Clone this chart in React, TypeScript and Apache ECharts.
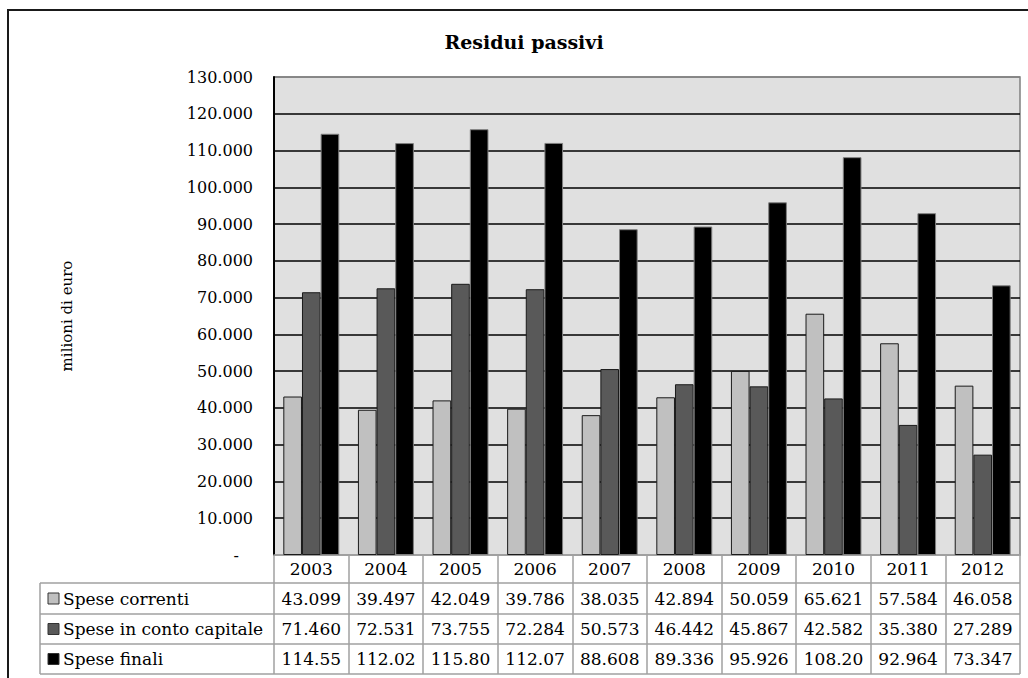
import React, { useEffect, useRef } from "react";
import * as echarts from "echarts";

const years = ["2003", "2004", "2005", "2006", "2007", "2008", "2009", "2010", "2011", "2012"];
const speseCorrenti = [43099, 39497, 42049, 39786, 38035, 42894, 50059, 65621, 57584, 46058];
const speseCapitale = [71460, 72531, 73755, 72284, 50573, 46442, 45867, 42582, 35380, 27289];
const speseFinali = [114559, 112028, 115804, 112070, 88608, 89336, 95926, 108203, 92964, 73347];
const seriesNames = ["Spese correnti", "Spese in conto capitale", "Spese finali"];
const seriesColors = ["#c0c0c0", "#595959", "#000000"];
const seriesBorders = ["#1a1a1a", "#1a1a1a", "#7f7f7f"];
const yMin = 0;
const yMax = 130000;
const yStep = 10000;

const FONT = "DejaVu Serif";
const TABLE_FS = 17;

const fmt = (v: number) =>
  Math.round(v)
    .toString()
    .replace(/\B(?=(\d{3})+(?!\d))/g, ".");
const cell = (v: number) => fmt(v).slice(0, 6);

// layout
const GRID_LEFT = 274;
const GRID_TOP = 77;
const GRID_RIGHT_X = 1020;
const GRID_BOTTOM_Y = 555;
const ROW_LINES = [583, 614, 644, 674];
const TABLE_LEFT = 40;
const W = 1028;
const H = 678;

export default function App() {
  const ref = useRef<HTMLDivElement>(null);
  useEffect(() => {
    if (!ref.current) return;
    const chart = echarts.init(ref.current, undefined, { renderer: "svg" });
    const rows = [speseCorrenti, speseCapitale, speseFinali];
    const rowCenters = [
      (GRID_BOTTOM_Y + ROW_LINES[0]) / 2,
      (ROW_LINES[0] + ROW_LINES[1]) / 2,
      (ROW_LINES[1] + ROW_LINES[2]) / 2,
      (ROW_LINES[2] + ROW_LINES[3]) / 2,
    ];
    const nTicks = Math.round((yMax - yMin) / yStep) + 1;
    const splitColors = Array.from({ length: nTicks }, (_, i) =>
      i === nTicks - 1 ? "#808080" : i === 0 ? "#a0a0a0" : "#000000"
    );

    const labelAxis = (k: number) => ({
      type: "category",
      data: years,
      gridIndex: 0,
      position: "bottom",
      axisLine: { show: false },
      axisTick: { show: false },
      splitLine: { show: false },
      axisLabel: {
        interval: 0,
        margin: rowCenters[k + 1] - GRID_BOTTOM_Y,
        verticalAlign: "middle",
        color: "#000",
        fontFamily: FONT,
        fontSize: TABLE_FS,
        formatter: (_v: string, idx: number) => cell(rows[k][idx]),
      },
    });

    const graphics: any[] = [
      {
        type: "rect",
        shape: { x: 8, y: 10, width: 1060, height: 720 },
        style: { fill: "none", stroke: "#1a1a1a", lineWidth: 2 },
        silent: true,
      },
      {
        type: "text",
        x: 524,
        y: 42,
        style: {
          text: "Residui passivi",
          fontFamily: FONT,
          fontWeight: "bold",
          fontSize: 19,
          fill: "#000",
          align: "center",
          verticalAlign: "middle",
        },
      },
      ...ROW_LINES.map((y) => ({
        type: "line",
        shape: { x1: TABLE_LEFT, y1: y, x2: GRID_RIGHT_X, y2: y },
        style: { stroke: "#a0a0a0", lineWidth: 1.5 },
        z: 10,
      })),
      {
        type: "line",
        shape: { x1: TABLE_LEFT, y1: ROW_LINES[0], x2: TABLE_LEFT, y2: ROW_LINES[3] },
        style: { stroke: "#a0a0a0", lineWidth: 1.5 },
        z: 10,
      },
    ];
    seriesNames.forEach((name, k) => {
      const cy = rowCenters[k + 1];
      graphics.push({
        type: "rect",
        shape: { x: 48, y: cy - 5.5, width: 11, height: 11 },
        style: { fill: seriesColors[k], stroke: "#333", lineWidth: 1 },
        z: 10,
      });
      graphics.push({
        type: "text",
        x: 63,
        y: cy,
        style: {
          text: name,
          fontFamily: FONT,
          fontSize: TABLE_FS,
          fill: "#000",
          align: "left",
          verticalAlign: "middle",
        },
        z: 10,
      });
    });

    chart.setOption({
      animation: false,
      backgroundColor: "#ffffff",
      textStyle: { fontFamily: FONT },
      grid: {
        left: GRID_LEFT,
        top: GRID_TOP,
        right: W - GRID_RIGHT_X,
        bottom: H - GRID_BOTTOM_Y,
        containLabel: false,
        show: true,
        backgroundColor: "#e0e0e0",
        borderColor: "#808080",
        borderWidth: 1.5,
      },
      xAxis: [
        {
          type: "category",
          data: years,
          position: "bottom",
          axisLine: { show: true, lineStyle: { color: "#a0a0a0", width: 1.5 } },
          axisTick: {
            show: true,
            length: ROW_LINES[3] - GRID_BOTTOM_Y,
            inside: false,
            lineStyle: { color: "#a0a0a0", width: 1.5 },
          },
          splitLine: { show: false },
          axisLabel: {
            interval: 0,
            margin: rowCenters[0] - GRID_BOTTOM_Y,
            verticalAlign: "middle",
            color: "#000",
            fontFamily: FONT,
            fontSize: TABLE_FS,
          },
        },
        labelAxis(0),
        labelAxis(1),
        labelAxis(2),
      ],
      yAxis: {
        type: "value",
        min: yMin,
        max: yMax,
        interval: yStep,
        name: "milioni di euro",
        nameLocation: "middle",
        nameGap: 200,
        nameRotate: 90,
        nameTextStyle: { fontFamily: FONT, fontSize: 15, color: "#000" },
        axisLine: { show: true, lineStyle: { color: "#000", width: 2 } },
        axisTick: { show: false },
        splitLine: { show: true, lineStyle: { color: splitColors, width: 1.5 } },
        axisLabel: {
          margin: 21,
          color: "#000",
          fontFamily: FONT,
          fontSize: 16,
          formatter: (v: number) => (v === 0 ? "{z|-}" : fmt(v)),
          rich: { z: { padding: [0, 14, 0, 0], fontFamily: FONT, fontSize: 16, color: "#000" } },
        },
      },
      series: rows.map((data, k) => ({
        type: "bar",
        name: seriesNames[k],
        data,
        xAxisIndex: 0,
        barCategoryGap: "25%",
        barGap: "0%",
        itemStyle: { color: seriesColors[k], borderColor: seriesBorders[k], borderWidth: 1 },
      })),
      graphic: graphics,
    });
    return () => chart.dispose();
  }, []);
  return (
    <div
      ref={ref}
      style={{ position: "fixed", left: 0, top: 0, width: W, height: H }}
    />
  );
}
